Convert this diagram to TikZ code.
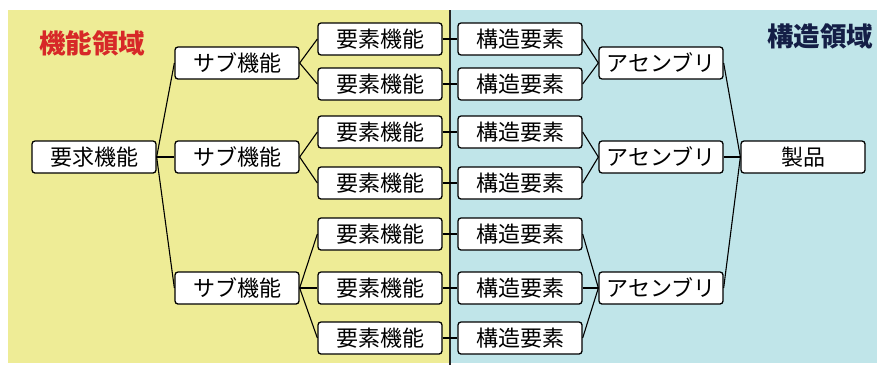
\documentclass[tikz,border=0pt]{standalone}
\usepackage{fontspec}
\newfontfamily\jp{Noto Sans CJK JP}
\definecolor{ylw}{RGB}{238,236,150}
\definecolor{cyn}{RGB}{192,229,233}
\definecolor{ttlred}{RGB}{215,40,40}
\definecolor{ttlblue}{RGB}{20,30,70}
\begin{document}
\begin{tikzpicture}[x=1pt,y=-1pt,
  box/.style={draw=black,line width=1.3pt,fill=white,rounded corners=3pt,
    minimum width=124pt,minimum height=32pt,inner sep=0pt,
    font=\jp\fontsize{22}{24}\selectfont},
  conn/.style={draw=black,line width=1.1pt},
  ttl/.style={font=\jp\bfseries\fontsize{26.5}{28}\selectfont,inner sep=0pt}]
\useasboundingbox (0,0) rectangle (877,365);
\fill[white] (0,0) rectangle (877,365);
\fill[ylw] (8,10) rectangle (450,363);
\fill[cyn] (450,10) rectangle (877,363);
\draw[line width=1.5pt,black!85] (450,10) -- (450,365);

\node[ttl,text=ttlred] (t1) at (92,43) {機能領域};
\node[ttl,text=ttlblue] (t2) at (820,36) {構造領域};

\node[box] (req) at (94,157) {要求機能};
\node[box] (s1) at (237,63) {サブ機能};
\node[box] (s2) at (237,157) {サブ機能};
\node[box] (s3) at (237,288) {サブ機能};

\node[box] (e1) at (380,39) {要素機能};
\node[box] (e2) at (380,84) {要素機能};
\node[box] (e3) at (380,132) {要素機能};
\node[box] (e4) at (380,183) {要素機能};
\node[box] (e5) at (380,234) {要素機能};
\node[box] (e6) at (380,288) {要素機能};
\node[box] (e7) at (380,338) {要素機能};

\node[box] (c1) at (520,39) {構造要素};
\node[box] (c2) at (520,84) {構造要素};
\node[box] (c3) at (520,132) {構造要素};
\node[box] (c4) at (520,183) {構造要素};
\node[box] (c5) at (520,234) {構造要素};
\node[box] (c6) at (520,288) {構造要素};
\node[box] (c7) at (520,338) {構造要素};

\node[box] (a1) at (661,63) {アセンブリ};
\node[box] (a2) at (661,157) {アセンブリ};
\node[box] (a3) at (661,288) {アセンブリ};

\node[box] (p) at (803,157) {製品};

\foreach \s in {s1,s2,s3} \draw[conn] (req.east) -- (\s.west);
\foreach \e in {e1,e2} \draw[conn] (s1.east) -- (\e.west);
\foreach \e in {e3,e4} \draw[conn] (s2.east) -- (\e.west);
\foreach \e in {e5,e6,e7} \draw[conn] (s3.east) -- (\e.west);
\foreach \i in {1,...,7} \draw[conn] (e\i.east) -- (c\i.west);
\foreach \c in {c1,c2} \draw[conn] (\c.east) -- (a1.west);
\foreach \c in {c3,c4} \draw[conn] (\c.east) -- (a2.west);
\foreach \c in {c5,c6,c7} \draw[conn] (\c.east) -- (a3.west);
\foreach \a in {a1,a2,a3} \draw[conn] (\a.east) -- (p.west);
\end{tikzpicture}
\end{document}
